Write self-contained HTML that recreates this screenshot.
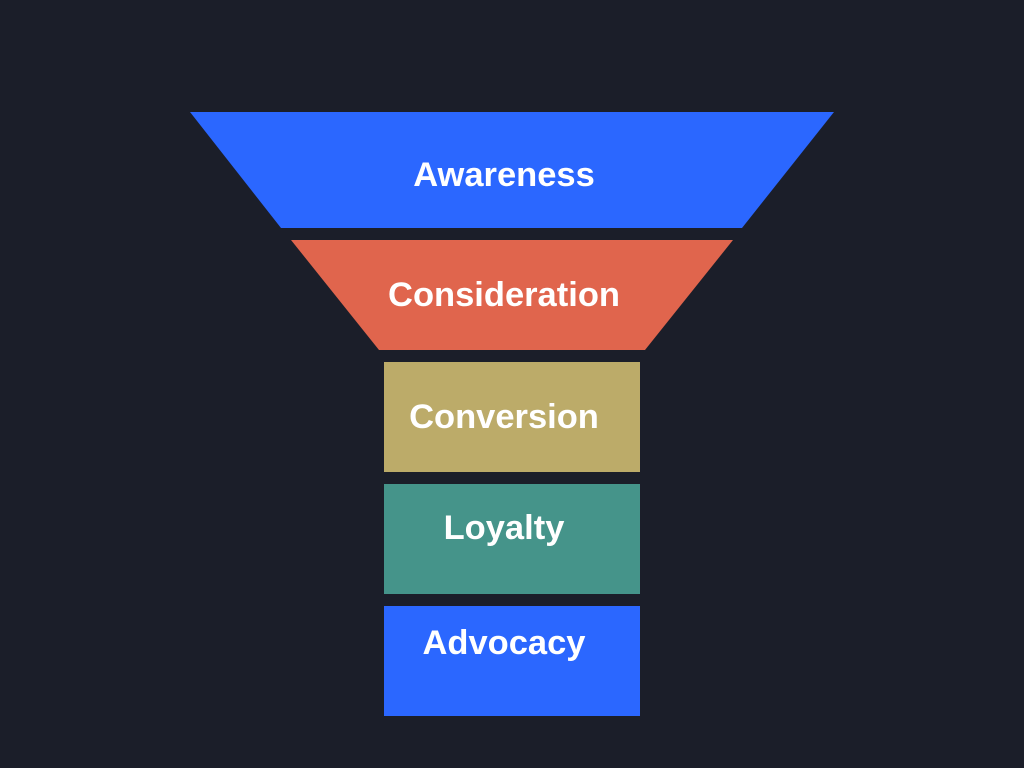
<!DOCTYPE html>
<html><head><style>
html,body{margin:0;padding:0;background:#1b1e29;}
svg{display:block}
text{font-family:"Liberation Sans",sans-serif;font-weight:bold;fill:#fff;font-size:34.5px;text-anchor:middle}
</style></head><body>
<svg width="1024" height="768" viewBox="0 0 1024 768">
<rect width="1024" height="768" fill="#1b1e29"/>
<polygon points="190,112 834,112 742,228 281,228" fill="#2b67ff"/>
<text x="504" y="186">Awareness</text>
<polygon points="291,240 733,240 645,350 379,350" fill="#e0654d"/>
<text x="504" y="306">Consideration</text>
<rect x="384" y="362" width="256" height="110" fill="#bcab69"/>
<text x="504" y="428">Conversion</text>
<rect x="384" y="484" width="256" height="110" fill="#45948a"/>
<text x="504" y="539">Loyalty</text>
<rect x="384" y="606" width="256" height="110" fill="#2b67ff"/>
<text x="504" y="654">Advocacy</text>
</svg>
</body></html>
